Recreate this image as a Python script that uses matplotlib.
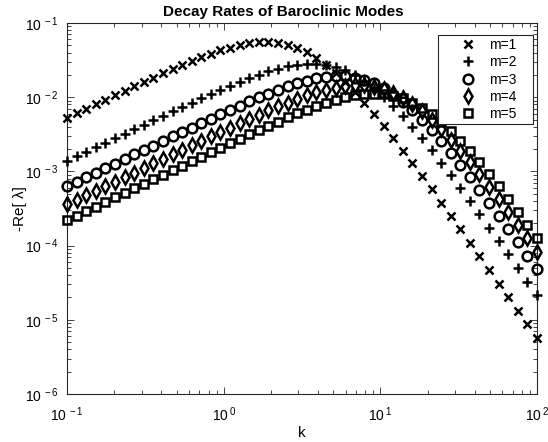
import matplotlib
matplotlib.use("Agg")
import matplotlib.pyplot as plt
from matplotlib.ticker import FuncFormatter, LogLocator
import math

k = [0.1, 0.1151, 0.1326, 0.1526, 0.1758, 0.2024, 0.2330, 0.2683, 0.3089, 0.3556,
     0.4095, 0.4715, 0.5429, 0.6251, 0.7197, 0.8286, 0.9541, 1.0985, 1.2649, 1.4563,
     1.6768, 1.9307, 2.2230, 2.5595, 2.9471, 3.3932, 3.9069, 4.4984, 5.1795, 5.9636,
     6.8665, 7.9060, 9.1030, 10.481, 12.068, 13.895, 15.999, 18.421, 21.210, 24.421,
     28.118, 32.375, 37.276, 42.919, 49.417, 56.899, 65.513, 75.431, 86.851, 100.0]

m1 = [5.29e-3, 6.09e-3, 7.00e-3, 8.05e-3, 9.26e-3, 1.06e-2, 1.22e-2, 1.40e-2, 1.61e-2, 1.84e-2,
      2.10e-2, 2.40e-2, 2.72e-2, 3.08e-2, 3.46e-2, 3.86e-2, 4.27e-2, 4.67e-2, 5.03e-2, 5.32e-2,
      5.50e-2, 5.54e-2, 5.40e-2, 5.09e-2, 4.63e-2, 4.04e-2, 3.39e-2, 2.74e-2, 2.13e-2, 1.61e-2,
      1.18e-2, 8.48e-3, 5.97e-3, 4.13e-3, 2.83e-3, 1.91e-3, 1.29e-3, 8.58e-4, 5.71e-4, 3.78e-4,
      2.50e-4, 1.65e-4, 1.08e-4, 7.13e-5, 4.68e-5, 3.07e-5, 2.02e-5, 1.32e-5, 8.67e-6, 5.69e-6]
m2 = [1.38e-3, 1.59e-3, 1.83e-3, 2.10e-3, 2.42e-3, 2.79e-3, 3.21e-3, 3.69e-3, 4.24e-3, 4.88e-3,
      5.60e-3, 6.43e-3, 7.38e-3, 8.46e-3, 9.68e-3, 1.10e-2, 1.26e-2, 1.43e-2, 1.61e-2, 1.81e-2,
      2.02e-2, 2.23e-2, 2.43e-2, 2.60e-2, 2.74e-2, 2.81e-2, 2.81e-2, 2.72e-2, 2.54e-2, 2.29e-2,
      1.98e-2, 1.65e-2, 1.32e-2, 1.02e-2, 7.64e-3, 5.58e-3, 3.98e-3, 2.79e-3, 1.92e-3, 1.31e-3,
      8.87e-4, 5.95e-4, 3.97e-4, 2.63e-4, 1.74e-4, 1.15e-4, 7.59e-5, 5.00e-5, 3.28e-5, 2.16e-5]
m3 = [6.30e-4, 7.25e-4, 8.35e-4, 9.61e-4, 1.11e-3, 1.27e-3, 1.47e-3, 1.69e-3, 1.94e-3, 2.23e-3,
      2.57e-3, 2.96e-3, 3.40e-3, 3.90e-3, 4.48e-3, 5.14e-3, 5.89e-3, 6.74e-3, 7.69e-3, 8.75e-3,
      9.92e-3, 1.12e-2, 1.26e-2, 1.40e-2, 1.54e-2, 1.67e-2, 1.79e-2, 1.88e-2, 1.92e-2, 1.91e-2,
      1.84e-2, 1.71e-2, 1.53e-2, 1.31e-2, 1.08e-2, 8.63e-3, 6.64e-3, 4.95e-3, 3.60e-3, 2.56e-3,
      1.79e-3, 1.23e-3, 8.39e-4, 5.67e-4, 3.80e-4, 2.53e-4, 1.68e-4, 1.11e-4, 7.34e-5, 4.83e-5]
m4 = [3.60e-4, 4.14e-4, 4.77e-4, 5.49e-4, 6.32e-4, 7.28e-4, 8.38e-4, 9.65e-4, 1.11e-3, 1.28e-3,
      1.47e-3, 1.69e-3, 1.95e-3, 2.24e-3, 2.57e-3, 2.96e-3, 3.39e-3, 3.89e-3, 4.46e-3, 5.10e-3,
      5.82e-3, 6.63e-3, 7.51e-3, 8.48e-3, 9.51e-3, 1.06e-2, 1.16e-2, 1.26e-2, 1.35e-2, 1.42e-2,
      1.45e-2, 1.44e-2, 1.38e-2, 1.28e-2, 1.15e-2, 9.83e-3, 8.11e-3, 6.45e-3, 4.95e-3, 3.69e-3,
      2.68e-3, 1.91e-3, 1.33e-3, 9.17e-4, 6.24e-4, 4.21e-4, 2.82e-4, 1.88e-4, 1.25e-4, 8.26e-5]
m5 = [2.20e-4, 2.53e-4, 2.92e-4, 3.36e-4, 3.87e-4, 4.45e-4, 5.12e-4, 5.90e-4, 6.79e-4, 7.82e-4,
      9.00e-4, 1.04e-3, 1.19e-3, 1.37e-3, 1.58e-3, 1.81e-3, 2.08e-3, 2.39e-3, 2.75e-3, 3.15e-3,
      3.61e-3, 4.12e-3, 4.70e-3, 5.34e-3, 6.05e-3, 6.81e-3, 7.62e-3, 8.45e-3, 9.27e-3, 1.00e-2,
      1.06e-2, 1.11e-2, 1.12e-2, 1.10e-2, 1.05e-2, 9.61e-3, 8.47e-3, 7.17e-3, 5.85e-3, 4.59e-3,
      3.49e-3, 2.58e-3, 1.86e-3, 1.32e-3, 9.14e-4, 6.27e-4, 4.25e-4, 2.86e-4, 1.91e-4, 1.27e-4]

labels = ['m=1', 'm=2', 'm=3', 'm=4', 'm=5']

plt.rcParams['font.family'] = ['Liberation Sans', 'DejaVu Sans']
plt.rcParams['mathtext.fontset'] = 'custom'
plt.rcParams['mathtext.rm'] = 'Liberation Sans'
plt.rcParams['mathtext.default'] = 'regular'

fig = plt.figure(figsize=(5.48, 4.42), dpi=100)
ax = fig.add_axes([0.1223, 0.1086, 0.8577, 0.8394])

series = [m1, m2, m3, m4, m5]
markers = ['x', '+', 'o', 'd', 's']
sizes = [5.5, 7, 7, 7, 6]
for y, mk, lb, ms in zip(series, markers, labels, sizes):
    ax.plot(k, y, linestyle='none', marker=mk, color='k', mfc='none',
            ms=ms, mew=1.8, label=lb, clip_on=False, zorder=3)

ax.set_xscale('log')
ax.set_yscale('log')
ax.set_xlim(0.1, 100)
ax.set_ylim(1e-6, 1e-1)

def fmt(v, pos):
    e = int(round(math.log10(v)))
    return r'$10^{\,%d}$' % e

ax.xaxis.set_major_locator(LogLocator(base=10, numticks=10))
ax.yaxis.set_major_locator(LogLocator(base=10, numticks=10))
ax.xaxis.set_major_formatter(FuncFormatter(fmt))
ax.yaxis.set_major_formatter(FuncFormatter(fmt))
ax.tick_params(which='both', direction='in', top=True, right=True, labelsize=10,
               color='#262626')
ax.tick_params(which='major', length=5, width=0.6)
ax.tick_params(which='minor', length=3, width=0.6)
ax.tick_params(axis='x', which='major', pad=8)
ax.tick_params(axis='y', which='major', pad=6)
for sp in ax.spines.values():
    sp.set_linewidth(0.8)
    sp.set_color('#262626')

t = ax.set_title('Decay Rates of Baroclinic Modes', fontweight='bold', fontsize=11, pad=5)
t.set_x(0.46)
ax.set_xlabel('k', fontsize=11, labelpad=2)
ax.set_ylabel('-Re[ λ]', fontsize=11)
ax.yaxis.set_label_coords(-0.085, 0.5)

leg = ax.legend(loc='upper left', bbox_to_anchor=(0.7894, 0.5, 0.2021, 0.4677),
                mode='expand', fontsize=10, frameon=True, fancybox=False,
                framealpha=1, edgecolor='#262626', borderpad=0.22,
                handlelength=3.87, handletextpad=-0.42, labelspacing=0.24,
                borderaxespad=0)
leg.get_frame().set_linewidth(0.8)

fig.savefig('out.png', dpi=100)
